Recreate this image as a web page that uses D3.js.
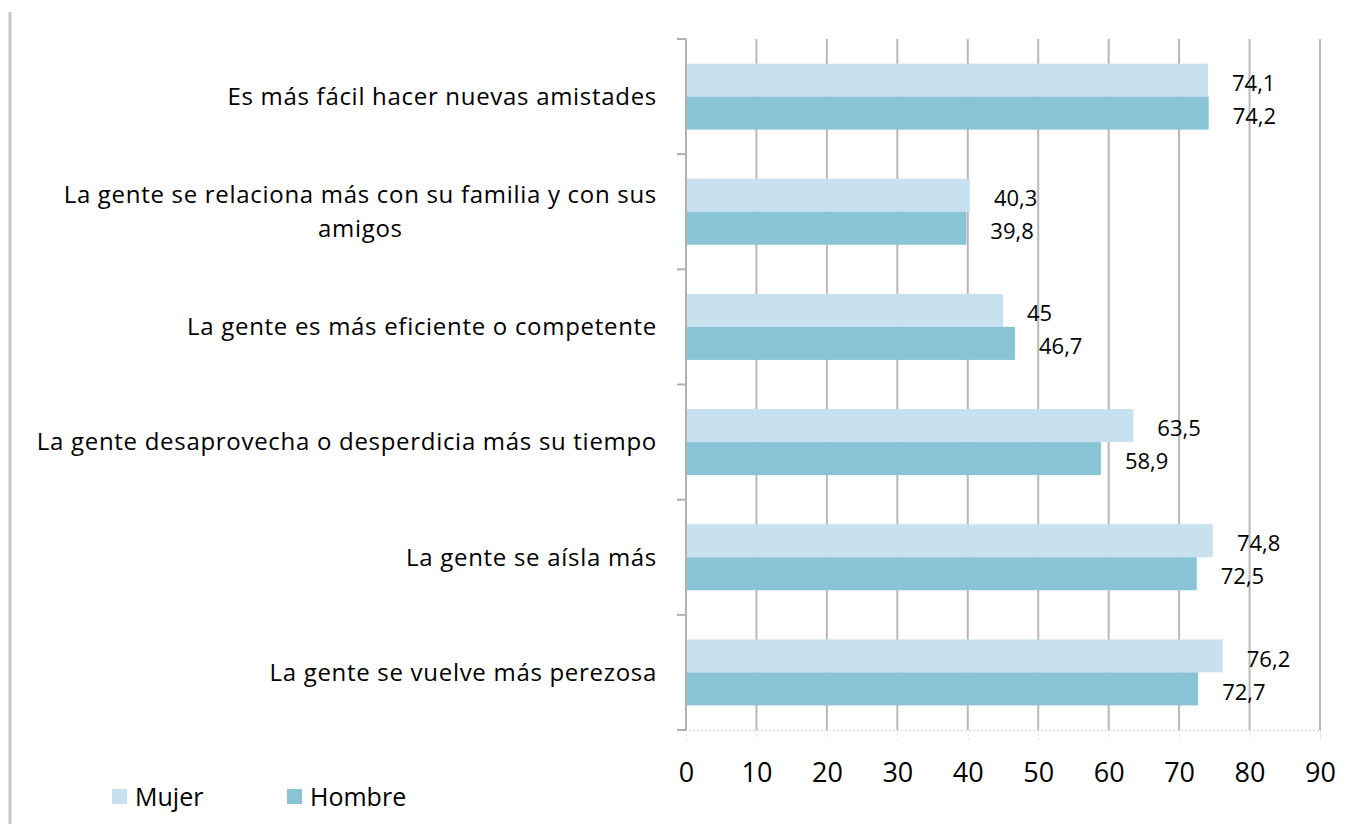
<!DOCTYPE html>
<html>
<head>
<meta charset="utf-8">
<script src="https://cdn.jsdelivr.net/npm/d3@7"></script>
<style>
  body { margin: 0; background: #fff; }
  svg { display: block; font-family: "Open Sans", sans-serif; }
</style>
</head>
<body>
<svg id="chart" width="1351" height="824"></svg>
<script>
// categories, top to bottom (wrapped lines as arrays)
var categories = [
  ["Es más fácil hacer nuevas amistades"],
  ["La gente se relaciona más con su familia y con sus", "amigos"],
  ["La gente es más eficiente o competente"],
  ["La gente desaprovecha o desperdicia más su tiempo"],
  ["La gente se aísla más"],
  ["La gente se vuelve más perezosa"]
];
var mujer = [74.1, 40.3, 45, 63.5, 74.8, 76.2];
var hombre = [74.2, 39.8, 46.7, 58.9, 72.5, 72.7];
var seriesNames = ["Mujer", "Hombre"];
var seriesColors = ["#c8e1ee", "#89c4d6"];
var xTicks = [0, 10, 20, 30, 40, 50, 60, 70, 80, 90];

function drawChart() {
  var svg = d3.select("#chart");
  var plotLeft = 686, plotRight = 1320, plotTop = 39, plotBottom = 730;

  var x = d3.scaleLinear().domain([0, 90]).range([plotLeft, plotRight]);
  var y = d3.scaleBand().domain(d3.range(categories.length)).range([plotTop, plotBottom]);
  var ySub = d3.scaleBand().domain([0, 1]).range([0, 66]);
  var barOffset = (y.bandwidth() - 66) / 2;

  // left border line
  svg.append("line")
    .attr("x1", 10).attr("x2", 10).attr("y1", 12).attr("y2", 824)
    .attr("stroke", "#c8c8c8").attr("stroke-width", 3);

  // grid lines
  svg.append("g").selectAll("line")
    .data(xTicks.slice(1))
    .enter().append("line")
    .attr("x1", function(d) { return x(d); }).attr("x2", function(d) { return x(d); })
    .attr("y1", plotTop).attr("y2", plotBottom)
    .attr("stroke", "#b8b8b8").attr("stroke-width", 2);

  // x axis: faint dotted baseline and ticks
  var xAxis = svg.append("g")
    .attr("transform", "translate(0," + plotBottom + ")")
    .call(d3.axisBottom(x).tickValues(xTicks).tickSize(10).tickPadding(23));
  xAxis.select(".domain").attr("stroke", "#d8d8d8").attr("stroke-dasharray", "2,2");
  xAxis.selectAll(".tick line").attr("stroke", "#e0e0e0").attr("stroke-dasharray", "2,2");
  xAxis.selectAll(".tick text")
    .attr("fill", "#000").style("font-size", "27px").style("font-family", "'Open Sans', sans-serif");

  // bars
  var groups = svg.append("g").selectAll("g")
    .data(categories.map(function(c, i) { return {i: i, values: [mujer[i], hombre[i]]}; }))
    .enter().append("g")
    .attr("transform", function(d) { return "translate(0," + (y(d.i) + barOffset) + ")"; });

  groups.selectAll("rect")
    .data(function(d) { return d.values; })
    .enter().append("rect")
    .attr("x", x(0))
    .attr("y", function(d, j) { return ySub(j); })
    .attr("width", function(d) { return x(d) - x(0); })
    .attr("height", ySub.bandwidth())
    .attr("fill", function(d, j) { return seriesColors[j]; });

  groups.selectAll("text")
    .data(function(d) { return d.values; })
    .enter().append("text")
    .attr("x", function(d) { return x(d) + 24; })
    .attr("y", function(d, j) { return ySub(j) + ySub.bandwidth() / 2 + 3; })
    .attr("dy", "0.35em")
    .style("font-size", "22px")
    .text(function(d) { return String(d).replace(".", ","); });

  // y axis
  var yAxis = svg.append("g")
    .attr("transform", "translate(" + plotLeft + ",0)");
  yAxis.append("line")
    .attr("x1", 0).attr("x2", 0).attr("y1", plotTop).attr("y2", plotBottom)
    .attr("stroke", "#b0b0b0").attr("stroke-width", 2);
  yAxis.selectAll(".tk")
    .data(d3.range(categories.length + 1))
    .enter().append("line")
    .attr("x1", -9).attr("x2", 0)
    .attr("y1", function(i) { return plotTop + i * y.step(); })
    .attr("y2", function(i) { return plotTop + i * y.step(); })
    .attr("stroke", "#b0b0b0").attr("stroke-width", 2);

  // category labels (wrapped lines centred, block right-aligned)
  var lab = svg.append("g").selectAll("g")
    .data(categories)
    .enter().append("g");
  lab.each(function(lines, i) {
    var g = d3.select(this);
    var cy = y(i) + y.bandwidth() / 2;
    var lh = 34;
    var texts = lines.map(function(t, k) {
      return g.append("text")
        .attr("y", cy + (k - (lines.length - 1) / 2) * lh)
        .attr("dy", "0.35em")
        .style("font-size", "24px")
        .style("letter-spacing", "0.7px")
        .attr("text-anchor", "middle")
        .text(t);
    });
    var w = d3.max(texts, function(t) { return t.node().getComputedTextLength(); });
    texts.forEach(function(t) { t.attr("x", 657 - w / 2); });
  });

  // legend
  var legend = svg.append("g").selectAll("g")
    .data(seriesNames)
    .enter().append("g")
    .attr("transform", function(d, i) { return "translate(" + (112 + i * 175) + ",789)"; });
  legend.append("rect")
    .attr("width", 15).attr("height", 15)
    .attr("fill", function(d, i) { return seriesColors[i]; });
  legend.append("text")
    .attr("x", 23).attr("y", 8).attr("dy", "0.35em")
    .style("font-size", "25px")
    .text(function(d) { return d; });
}

drawChart();
</script>
</body>
</html>
